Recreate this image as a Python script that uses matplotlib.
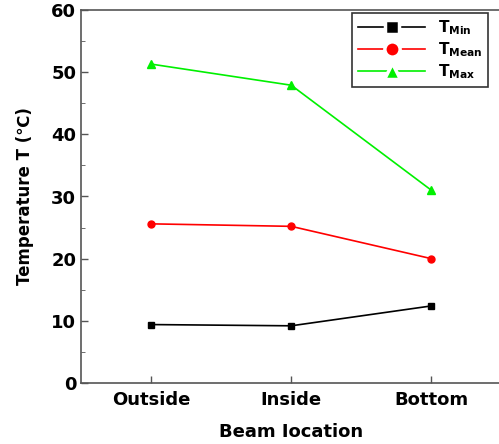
import matplotlib
matplotlib.use("Agg")
import matplotlib.pyplot as plt
from matplotlib.ticker import MultipleLocator
from matplotlib.lines import Line2D

plt.rcParams['font.family'] = ['DejaVu Sans', 'Noto Sans CJK SC']

locations = ["Outside", "Inside", "Bottom"]
t_min = [9.4, 9.2, 12.4]
t_mean = [25.6, 25.2, 20.0]
t_max = [51.3, 47.9, 31.0]

green = '#00f000'
fig = plt.figure(figsize=(4.99, 4.44), dpi=100)
ax = fig.add_axes([81/499, 61/444, 1 - 81/499 + 0.005, 373/444])

x = list(range(len(locations)))
ax.plot(x, t_min, color='black', marker='s', markersize=5, lw=1.2)
ax.plot(x, t_mean, color='red', marker='o', markersize=5, lw=1.2)
ax.plot(x, t_max, color=green, marker='^', markersize=6, lw=1.2)

ax.set_xlim(-0.5, 2.5)
ax.set_ylim(0, 60)
ax.set_xticks(x)
ax.set_xticklabels(locations, fontsize=13, fontweight='bold')
ax.yaxis.set_major_locator(MultipleLocator(10))
ax.yaxis.set_minor_locator(MultipleLocator(5))
for lbl in ax.get_yticklabels():
    lbl.set_fontweight('bold')
    lbl.set_fontsize(13)
ax.tick_params(axis='both', direction='in', length=5, width=1, color='#555555')
ax.tick_params(axis='y', which='minor', direction='in', length=3, color='#555555')
ax.tick_params(axis='x', pad=6)
for s in ax.spines.values():
    s.set_color('#555555')
    s.set_linewidth(1.2)
ax.spines['right'].set_visible(False)

ax.set_xlabel('Beam Iocation', fontsize=13, fontweight='bold', labelpad=10)
ax.set_ylabel('Temperature T (℃)', fontsize=12, fontweight='bold', labelpad=12)

handles = [
    Line2D([], [], color='black', lw=1.2, marker='s', markersize=10,
           markeredgecolor='white', markeredgewidth=2.5, markerfacecolor='black'),
    Line2D([], [], color='red', lw=1.2, marker='o', markersize=11,
           markeredgecolor='white', markeredgewidth=2.5, markerfacecolor='red'),
    Line2D([], [], color=green, lw=1.2, marker='^', markersize=12,
           markeredgecolor='white', markeredgewidth=2.5, markerfacecolor=green),
]
labels = [r'$\mathbf{T_{Min}}$', r'$\mathbf{T_{Mean}}$', r'$\mathbf{T_{Max}}$']
leg = ax.legend(handles, labels, loc='upper right', bbox_to_anchor=(0.968, 0.993),
                borderaxespad=0, fontsize=11, frameon=True, fancybox=False,
                edgecolor='black', handlelength=4.4, labelspacing=0.2,
                borderpad=0.4, handletextpad=0.8)
leg.get_frame().set_linewidth(1.2)

fig.savefig('out.png', dpi=100)
